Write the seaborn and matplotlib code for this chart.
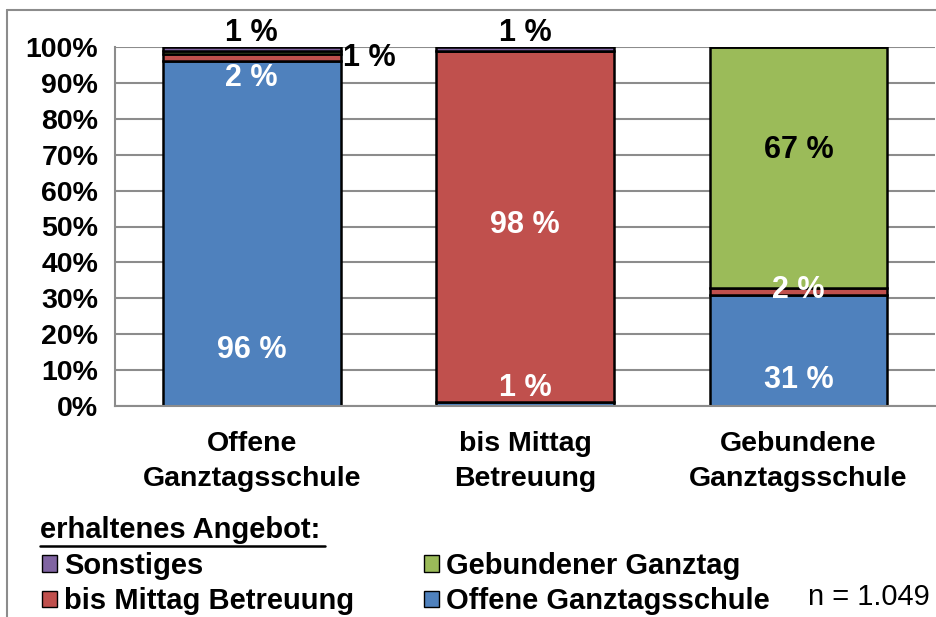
import matplotlib
matplotlib.use("Agg")
import matplotlib.pyplot as plt
from matplotlib.lines import Line2D
from matplotlib.patches import Patch
import seaborn as sns
import numpy as np

categories = ["Offene\nGanztagsschule", "bis Mittag\nBetreuung", "Gebundene\nGanztagsschule"]
offene = [96, 1, 31]
bis_mittag = [2, 98, 2]
gebunden = [1, 0, 67]
sonstiges = [1, 1, 0]

series_names = ["Offene Ganztagsschule", "bis Mittag Betreuung", "Gebundener Ganztag", "Sonstiges"]
colors = ["#4F81BD", "#C0504D", "#9BBB59", "#8064A2"]

# label: (bar index, text, y in %, colour, x shift)
labels = [
    (0, "1 %", 104.0, "black", 0.0),
    (0, "1 %", 97.0, "black", 0.43),
    (0, "2 %", 91.4, "white", 0.0),
    (0, "96 %", 15.6, "white", 0.0),
    (1, "1 %", 104.0, "black", 0.0),
    (1, "98 %", 50.4, "white", 0.0),
    (1, "1 %", 5.0, "white", 0.0),
    (2, "67 %", 71.3, "black", 0.0),
    (2, "2 %", 32.3, "white", 0.0),
    (2, "31 %", 7.2, "white", 0.0),
]

sns.set_style("white")
plt.rcParams["font.family"] = ["Liberation Sans", "DejaVu Sans"]
plt.rcParams["text.color"] = "black"
plt.rcParams["xtick.color"] = "black"
plt.rcParams["ytick.color"] = "black"

fig = plt.figure(figsize=(9.37, 6.17), dpi=100)
ax = fig.add_axes([115 / 937, 1 - 406 / 617, (935 - 115) / 937, (406 - 47) / 617])

layers = [offene, bis_mittag, gebunden, sonstiges]
bottom = np.zeros(len(categories))
for vals, col in zip(layers, colors):
    sns.barplot(x=categories, y=vals, bottom=bottom, color=col, width=0.65,
                edgecolor="black", linewidth=1.8, saturation=1, ax=ax)
    bottom = bottom + np.array(vals)

ax.set_ylim(0, 100)
ax.set_xlim(-0.5, 2.5)
ax.set_yticks(range(0, 101, 10))
ax.set_yticklabels([f"{v}%" for v in range(0, 101, 10)])
ax.yaxis.grid(True, color="#8c8c8c", linewidth=1.5)
ax.set_axisbelow(True)
for s in ["top", "right"]:
    ax.spines[s].set_visible(False)
for s in ["left", "bottom"]:
    ax.spines[s].set_color("#8c8c8c")
    ax.spines[s].set_linewidth(1.5)
ax.tick_params(axis="both", length=0, labelsize=20.5, labelcolor="black")
ax.tick_params(axis="x", pad=18)
ax.tick_params(axis="y", pad=12)
for t in ax.get_xticklabels() + ax.get_yticklabels():
    t.set_fontweight("bold")
for t in ax.get_xticklabels():
    t.set_linespacing(1.45)
ax.set_xlabel("")
ax.set_ylabel("")

for i, txt, y, c, dx in labels:
    ax.text(i + dx, y, txt, ha="center", va="center", color=c,
            fontsize=22, fontweight="bold", clip_on=False)

# legend
handles = [Patch(facecolor=colors[3], edgecolor="black"),
           Patch(facecolor=colors[1], edgecolor="black"),
           Patch(facecolor=colors[2], edgecolor="black"),
           Patch(facecolor=colors[0], edgecolor="black")]
names = [series_names[3], series_names[1], series_names[2], series_names[0]]
leg = fig.legend(handles, names, ncol=2, loc="upper left",
                 bbox_to_anchor=(42 / 937, 1 - 552 / 617), frameon=False,
                 prop={"weight": "bold", "size": 21}, handlelength=0.5,
                 handleheight=0.5, handletextpad=0.25, columnspacing=2.4,
                 labelspacing=0.25, borderaxespad=0, borderpad=0)
for t in leg.get_texts():
    t.set_color("black")

fig.text(40 / 937, 1 - 530 / 617, "erhaltenes Angebot:", fontsize=21,
         fontweight="bold", va="center", ha="left")
fig.add_artist(Line2D([40 / 937, 325 / 937], [1 - 546 / 617, 1 - 546 / 617],
                      color="black", linewidth=1.8))
fig.text(930 / 937, 1 - 597 / 617, "n = 1.049", fontsize=21, ha="right", va="center")

# outer frame
fig.add_artist(Line2D([7 / 937, 7 / 937], [0, 1 - 10 / 617], color="#8c8c8c", linewidth=1.5))
fig.add_artist(Line2D([7 / 937, 1], [1 - 10 / 617, 1 - 10 / 617], color="#8c8c8c", linewidth=1.5))

fig.savefig("out.png", dpi=100)
